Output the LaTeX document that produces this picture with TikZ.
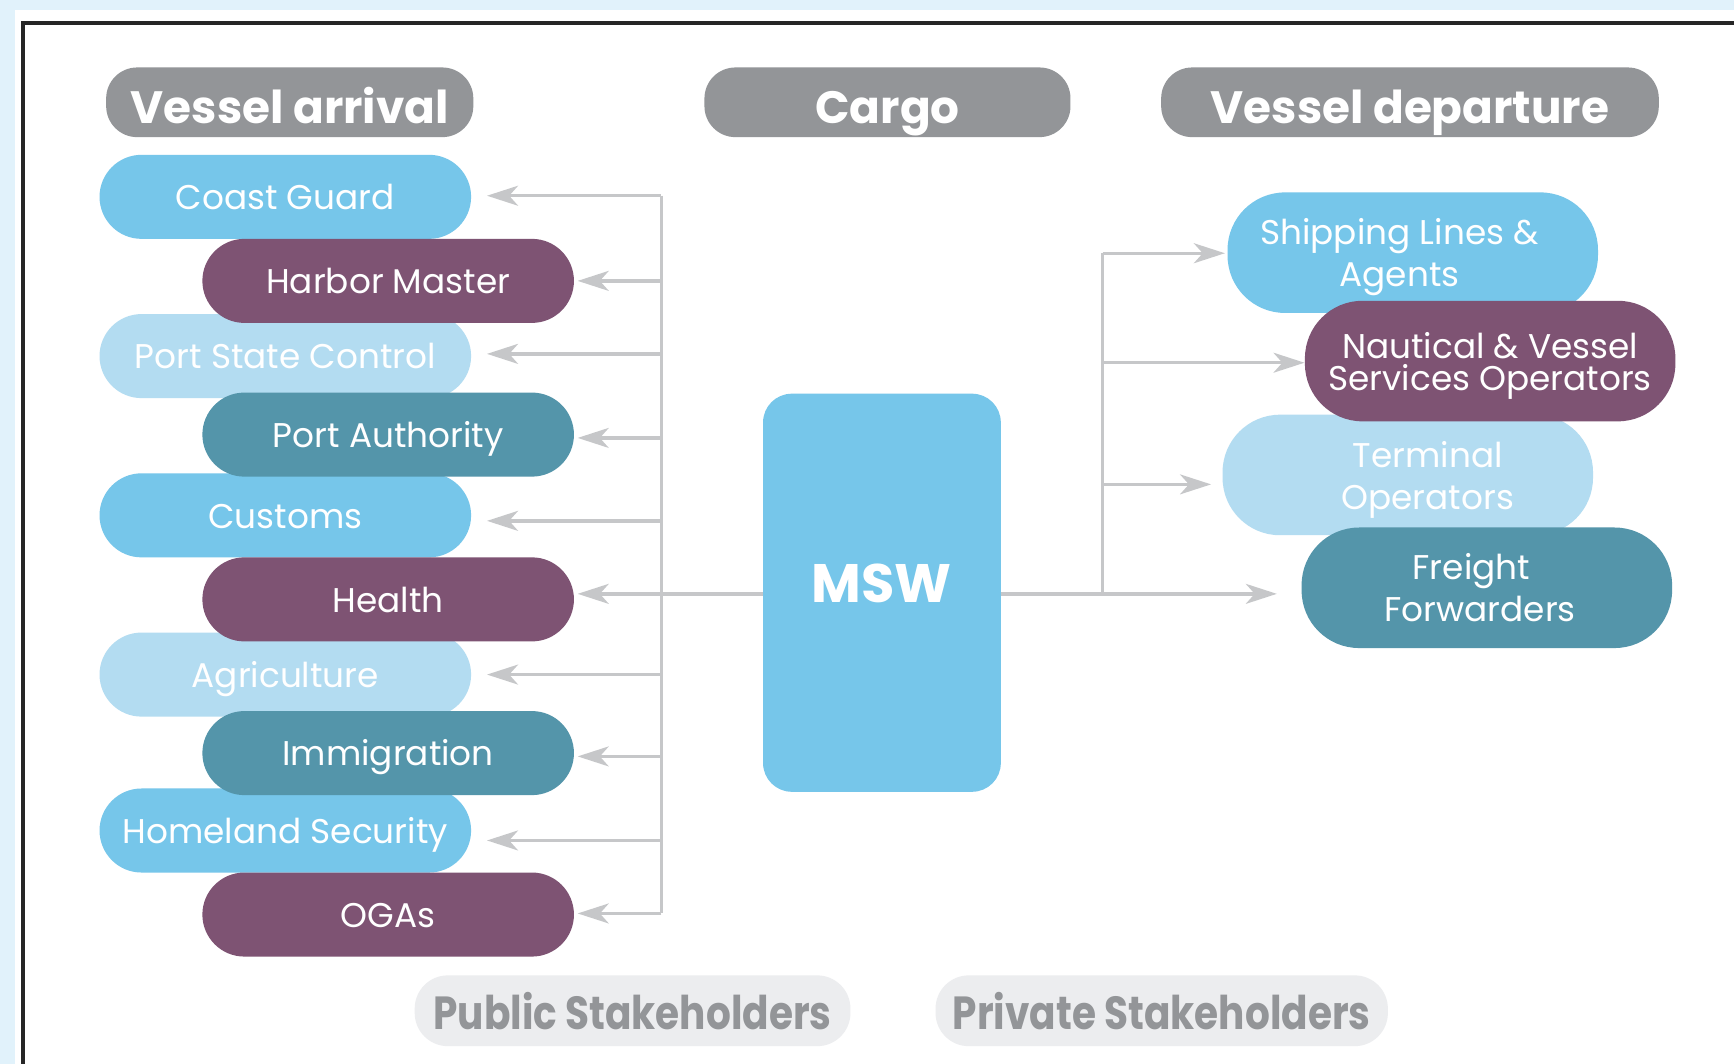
\documentclass[tikz,border=0pt]{standalone}
\usepackage{fontspec}
\setmainfont{Poppins}
\usetikzlibrary{arrows.meta}
\definecolor{bgblue}{HTML}{E1F2FB}
\definecolor{cLB}{HTML}{76C6EA}
\definecolor{cPU}{HTML}{7E5373}
\definecolor{cVL}{HTML}{B3DCF1}
\definecolor{cTE}{HTML}{5495AA}
\definecolor{headgray}{HTML}{939598}
\definecolor{arrgray}{HTML}{C6C7C9}
\definecolor{stakebg}{HTML}{ECEDEF}
\begin{document}
\begin{tikzpicture}[x=0.5pt,y=-0.5pt,
  pill/.style={rounded corners=19pt, minimum width=168pt, minimum height=38pt, inner sep=0pt, text height=11.5pt, text depth=0pt, text=white, font=\fontsize{15.5}{18}\selectfont},
  pilltwo/.style={rounded corners=26pt, minimum width=167.5pt, minimum height=54.5pt, inner sep=0pt, text depth=0pt, text=white, align=center, font=\fontsize{15.5}{19}\selectfont},
  header/.style={fill=headgray, rounded corners=14pt, minimum height=31.5pt, inner sep=0pt, text height=19pt, text depth=0pt, text=white, font=\bfseries\fontsize{20.5}{24}\selectfont},
  stake/.style={fill=stakebg, rounded corners=15pt, minimum height=32pt, minimum width=197pt, inner sep=0pt, text=headgray, font=\bfseries\fontsize{21}{24}\selectfont},
  conn/.style={draw=arrgray, line width=1.5pt},
  arr/.style={conn, -{Stealth[length=14pt, width=9pt, inset=4pt]}}
]
\useasboundingbox (0,0) rectangle (1568,962);
\fill[bgblue] (0,0) rectangle (1568,962);
\fill[white] (14,9) rectangle (1568,962);
\draw[line width=1.8pt, black!85] (20.5,962) -- (20.5,20.5) -- (1568,20.5);

% headers
\node[header, minimum width=166pt] (hA) at (262,92.5) {Vessel arrival};
\node[header, minimum width=165.5pt] (hC) at (802.5,92.5) {Cargo};
\node[header, minimum width=225pt] (hD) at (1275,92.5) {Vessel departure};

% left pills (back row)
\node[pill, fill=cLB] (CG) at (258,178) {Coast Guard};
\node[pill, fill=cVL] (PSC) at (258,322) {Port State Control};
\node[pill, fill=cLB] (CU) at (258,466) {Customs};
\node[pill, fill=cVL] (AG) at (258,610) {Agriculture};
\node[pill, fill=cLB] (HS) at (258,751) {Homeland Security};
% left pills (front row)
\node[pill, fill=cPU] (HM) at (351,254) {Harbor Master};
\node[pill, fill=cTE] (PA) at (351,393) {Port Authority};
\node[pill, fill=cPU] (HE) at (351,542) {Health};
\node[pill, fill=cTE] (IM) at (351,681) {Immigration};
\node[pill, fill=cPU] (OG) at (351,827) {OGAs};

% MSW
\node[fill=cLB, rounded corners=13pt, minimum width=107.5pt, minimum height=180pt, inner sep=0pt, text height=17pt, text depth=8pt, text=white, font=\bfseries\fontsize{24.5}{28}\selectfont] (MSW) at (797.5,536) {MSW};

% right pills
\node[pilltwo, fill=cLB] (SL) at (1277.5,228.5) {\hspace*{-12pt}Shipping Lines \&\\\hspace*{-12pt}Agents};
\node[pilltwo, fill=cVL] (TO) at (1273,429.5) {\hspace*{18pt}Terminal\\\hspace*{18pt}Operators};
\node[pilltwo, fill=cPU, font=\fontsize{15.5}{14.5}\selectfont] (NV) at (1347.5,326.5) {Nautical \& Vessel\\Services Operators};
\node[pilltwo, fill=cTE] (FF) at (1344.5,531.5) {\hspace*{-14pt}Freight\\\hspace*{-6pt}Forwarders};

% bottom legend
\node[stake] (PUB) at (572,914) {\scalebox{0.84}[1]{Public Stakeholders}};
\node[stake, minimum width=204.5pt] (PRI) at (1050.5,914) {\scalebox{0.84}[1]{Private Stakeholders}};

% left connectors
\coordinate (LT) at (598,177);
\coordinate (LB) at (598,826);
\coordinate (LM) at (598,537);
\draw[conn] (LT) -- (LB);
\draw[conn] (MSW.west |- LM) -- (LM);
\foreach \n/\y/\s in {CG/177/7, PSC/320/7, CU/471/7, AG/610/7, HS/760/7, HM/254/1.5, PA/396/1.5, HE/537/1.5, IM/684/1.5, OG/826/1.5}{
  \coordinate (t\n) at (598,\y);
  \draw[arr, shorten >=\s pt] (t\n) -- (t\n -| \n.east);
}

% right connectors
\coordinate (RT) at (997,229);
\coordinate (RB) at (997,537);
\draw[conn] (RT) -- (RB);
\draw[conn] (MSW.east |- RB) -- (RB);
\coordinate (rSL) at (997,229);
\coordinate (rNV) at (997,328);
\coordinate (rTO) at (997,438);
\coordinate (rFF) at (997,537);
\draw[arr, shorten >=1pt] (rSL) -- (rSL -| SL.west);
\draw[arr, shorten >=0pt] (rNV) -- (rNV -| NV.west);
\draw[arr, shorten >=5pt] (rTO) -- (rTO -| TO.west);
\draw[arr, shorten >=11pt] (rFF) -- (rFF -| FF.west);
\end{tikzpicture}
\end{document}
